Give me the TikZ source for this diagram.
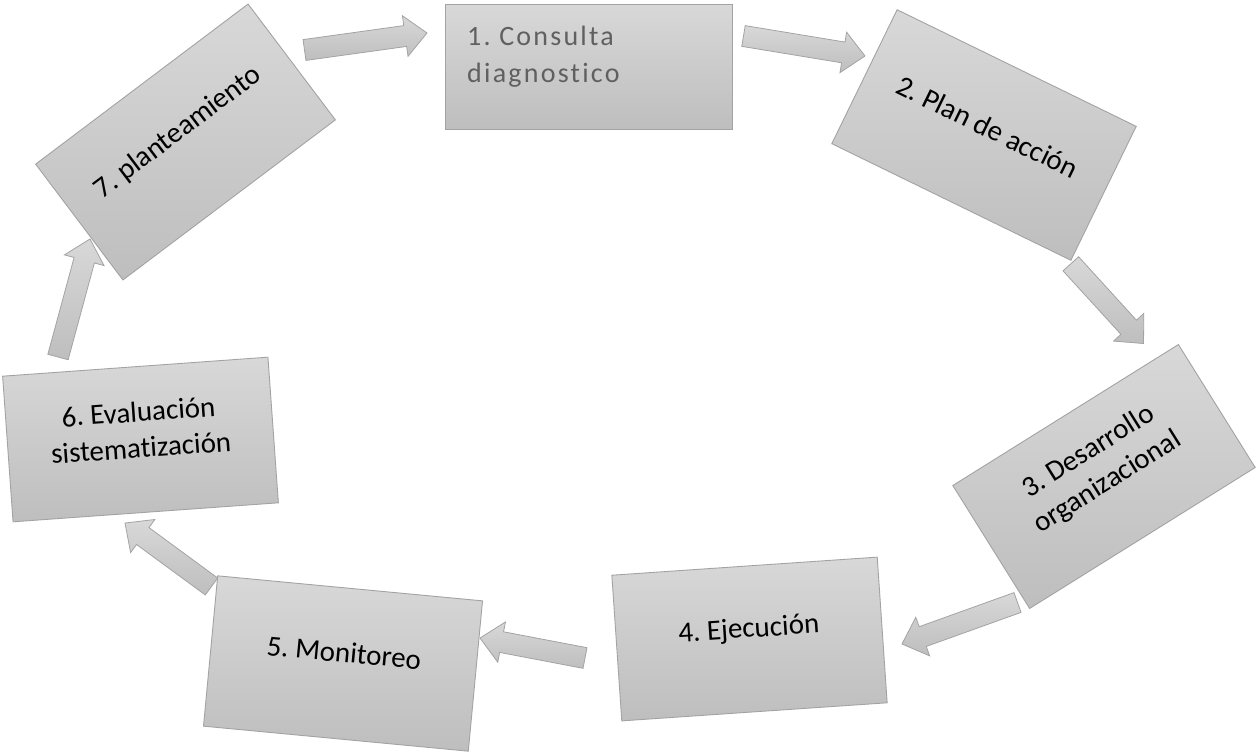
\documentclass[tikz,border=0pt]{standalone}
\usepackage{fontspec}
\setmainfont{Carlito}[Ligatures=NoCommon]
\newfontfamily\spacedfont{Carlito}[LetterSpace=8, Ligatures=NoCommon]
\usetikzlibrary{calc}
\definecolor{boxtop}{HTML}{D8D8D8}
\definecolor{boxbot}{HTML}{BEBEBE}
\definecolor{edgegray}{HTML}{A3A3A3}
\definecolor{txtgray}{HTML}{606060}
\frenchspacing
\newcommand\mkblockarrow[2]{%
  \coordinate (#1#2h) at ($(#2)!22pt!(#1)$);
  \draw[blockarrow]
    ($(#1)!10.5pt!90:(#2)$) -- ($(#1#2h)!10.5pt!90:(#2)$) -- ($(#1#2h)!20.5pt!90:(#2)$)
    -- (#2) -- ($(#1#2h)!20.5pt!-90:(#2)$) -- ($(#1#2h)!10.5pt!-90:(#2)$)
    -- ($(#1)!10.5pt!-90:(#2)$) -- cycle;}
\begin{document}
\begin{tikzpicture}[x=1pt,y=-1pt,
  stagebox/.style={draw=edgegray, line width=0.9pt, top color=boxtop, bottom color=boxbot,
    minimum width=266pt, minimum height=146pt, inner sep=0pt, outer sep=0pt},
  stagetext/.style={font=\fontsize{29}{36}\selectfont, align=center, inner sep=0pt, text=black},
  blockarrow/.style={draw=edgegray, line width=0.8pt, top color=boxtop, bottom color=boxbot, line join=miter}]
\useasboundingbox (0,0) rectangle (1256,753);

% boxes
\node[stagebox, minimum width=287pt, minimum height=125pt] (b1) at (588.5,66.5) {};
\node[stagebox, rotate=-26, minimum height=149pt] (b2) at (984,135) {};
\node[stagebox, rotate=32, minimum height=145pt] (b3) at (1104,476.5) {};
\node[stagebox, rotate=3.9] (b4) at (749.5,639) {};
\node[stagebox, rotate=-5.4, minimum height=151pt] (b5) at (343,663.5) {};
\node[stagebox, rotate=4.1] (b6) at (140.5,439.5) {};
\node[stagebox, rotate=37, minimum height=145pt] (b7) at (185.5,142) {};

% texts
\node[anchor=north west, inner sep=0pt, align=left, text=txtgray,
  font=\spacedfont\fontsize{28}{37}\selectfont] (t1) at (467,26) {1. Consulta\\diagnostico};
\node[stagetext, rotate=-26] (t2) at ($(b2.center)!9pt!(b2.north)$) {2. Plan de acción};
\node[stagetext, rotate=32] (t3) at ($(b3.center)!11pt!(b3.north)$) {3. Desarrollo\\organizacional};
\node[stagetext, rotate=3.9] (t4) at ($(b4.center)!9pt!(b4.north)$) {4. Ejecución};
\node[stagetext, rotate=-5.4] (t5) at ($(b5.center)!11pt!(b5.north)$) {5. Monitoreo};
\node[stagetext, rotate=4.1] (t6) at ($(b6.center)!10pt!(b6.north)$) {6. Evaluación\\sistematización};
\node[stagetext, rotate=37] (t7) at ($(b7.center)!12pt!(b7.north)$) {7. planteamiento};

% arrow end points
\coordinate (a71s) at (304.5,50);   \coordinate (a71e) at (427,33);
\coordinate (a12s) at (743.5,36);   \coordinate (a12e) at (865,56);
\coordinate (a23s) at (1070.8,263.8); \coordinate (a23e) at (1143.5,343.5);
\coordinate (a34s) at (1017.5,602.5); \coordinate (a34e) at (902,644);
\coordinate (a45s) at (585,658);    \coordinate (a45e) at (480,638);
\coordinate (a56s) at (211.5,586.5); \coordinate (a56e) at (125,523);
\coordinate (a67s) at (58,357);     \coordinate (a67e) at (90,239);

\mkblockarrow{a71s}{a71e}
\mkblockarrow{a12s}{a12e}
\mkblockarrow{a23s}{a23e}
\mkblockarrow{a34s}{a34e}
\mkblockarrow{a45s}{a45e}
\mkblockarrow{a56s}{a56e}
\mkblockarrow{a67s}{a67e}
\end{tikzpicture}
\end{document}
